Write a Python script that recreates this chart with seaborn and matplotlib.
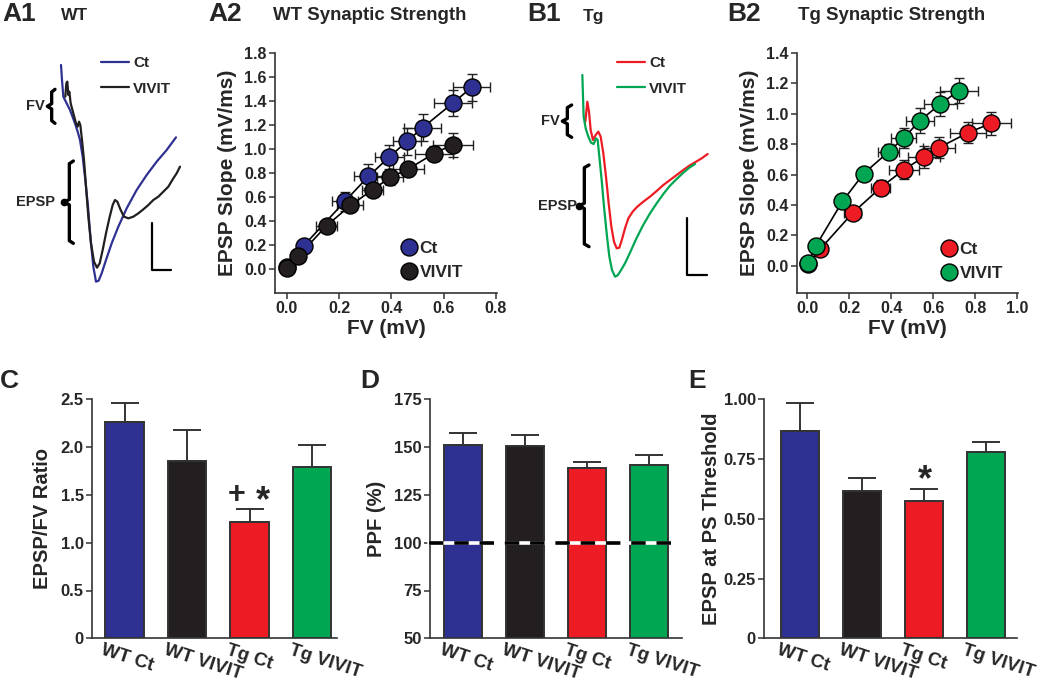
import numpy as np
import matplotlib
matplotlib.use('Agg')
import matplotlib.pyplot as plt
import seaborn as sns
from matplotlib.lines import Line2D
from matplotlib.transforms import ScaledTranslation

sns.set_theme(style='ticks')
plt.rcParams['font.family'] = ['Liberation Sans', 'DejaVu Sans']
plt.rcParams['font.weight'] = 'bold'
plt.rcParams['axes.labelweight'] = 'bold'

BLUE, BLACK, RED, GREEN = '#2e3192', '#231f20', '#ed1c24', '#00a651'
EDGE = '#333333'

# --- A1 / B1 traces (time, amplitude in arbitrary units) ---
wt_ct_t = [3, 6, 10, 15, 30, 45, 53, 60, 68, 76, 84, 92, 100, 108, 116, 125, 138,
           155, 175, 200, 230, 260, 290, 320, 348]
wt_ct_v = [0, -45, -95, -105, -135, -175, -200, -225, -275, -345, -425, -525, -605,
           -650, -647, -625, -585, -535, -485, -430, -375, -330, -290, -255, -217]
wt_vivit_t = [16, 19, 22, 25, 28, 32, 40, 48, 53, 57, 61, 66, 72, 78, 85, 93, 102, 111,
              119, 128, 138, 148, 158, 165, 172, 182, 192, 205, 220, 235, 250, 265,
              280, 295, 310, 325, 340, 350, 360]
wt_vivit_v = [-95, -55, -50, -90, -80, -115, -145, -175, -185, -170, -180, -225, -285,
              -365, -455, -535, -590, -608, -595, -555, -505, -460, -420, -405, -410,
              -435, -455, -460, -455, -445, -433, -420, -405, -395, -380, -365, -340,
              -325, -305]

tg_ct_t = [11, 17, 22, 27, 34, 42, 50, 57, 65, 73, 81, 89, 97, 105, 113, 121, 130, 140,
           153, 167, 185, 205, 225, 245, 265, 285, 305, 323, 340, 360, 378]
tg_ct_v = [-140, -80, -110, -165, -195, -180, -170, -185, -235, -305, -385, -455, -500,
           -520, -518, -493, -460, -430, -410, -395, -380, -365, -348, -330, -315, -300,
           -285, -272, -262, -250, -237]
tg_vivit_t = [2, 4, 6, 12, 20, 28, 36, 43, 48, 53, 60, 67, 75, 83, 91, 100, 108, 117,
              130, 145, 163, 183, 205, 225, 245, 265, 285, 305, 323, 340]
tg_vivit_v = [0, -65, -125, -160, -185, -203, -207, -190, -195, -245, -315, -395, -475,
              -545, -585, -605, -601, -587, -565, -533, -493, -453, -415, -385, -357,
              -332, -312, -293, -278, -267]

# --- A2 WT synaptic strength ---
wt_ct_fv = [0.0, 0.064, 0.222, 0.312, 0.392, 0.46, 0.52, 0.636, 0.708]
wt_ct_slope = [0.02, 0.194, 0.564, 0.772, 0.933, 1.064, 1.178, 1.383, 1.514]
wt_ct_fv_err = [0.01, 0.02, 0.05, 0.055, 0.055, 0.055, 0.07, 0.074, 0.072]
wt_ct_slope_err = [0.01, 0.03, 0.08, 0.1, 0.1, 0.11, 0.11, 0.11, 0.11]
wt_vivit_fv = [0.0, 0.042, 0.152, 0.243, 0.329, 0.396, 0.465, 0.562, 0.636]
wt_vivit_slope = [0.01, 0.106, 0.361, 0.53, 0.661, 0.764, 0.833, 0.961, 1.036]
wt_vivit_fv_err = [0.01, 0.015, 0.04, 0.05, 0.04, 0.05, 0.06, 0.073, 0.077]
wt_vivit_slope_err = [0.01, 0.02, 0.04, 0.04, 0.05, 0.06, 0.06, 0.06, 0.1]

# --- B2 Tg synaptic strength ---
tg_ct_fv = [0.005, 0.063, 0.216, 0.35, 0.461, 0.556, 0.626, 0.765, 0.876]
tg_ct_slope = [0.01, 0.11, 0.346, 0.514, 0.633, 0.716, 0.776, 0.875, 0.937]
tg_ct_fv_err = [0.005, 0.02, 0.04, 0.045, 0.07, 0.077, 0.077, 0.087, 0.093]
tg_ct_slope_err = [0.01, 0.02, 0.04, 0.05, 0.06, 0.07, 0.07, 0.07, 0.077]
tg_vivit_fv = [0.005, 0.041, 0.168, 0.269, 0.388, 0.46, 0.537, 0.634, 0.723]
tg_vivit_slope = [0.015, 0.128, 0.423, 0.606, 0.75, 0.842, 0.955, 1.065, 1.153]
tg_vivit_fv_err = [0.005, 0.015, 0.02, 0.03, 0.05, 0.06, 0.065, 0.08, 0.09]
tg_vivit_slope_err = [0.01, 0.02, 0.03, 0.04, 0.05, 0.065, 0.08, 0.08, 0.08]

# --- C, D, E bar charts ---
groups = ['WT Ct', 'WT VIVIT', 'Tg Ct', 'Tg VIVIT']
bar_colors = [BLUE, BLACK, RED, GREEN]
ratio = [2.263, 1.855, 1.213, 1.796]
ratio_err = [0.195, 0.324, 0.136, 0.226]
ppf = [150.9, 150.6, 139.1, 140.7]
ppf_err = [6.7, 5.7, 3.1, 5.4]
thresh = [0.8675, 0.615, 0.573, 0.778]
thresh_err = [0.117, 0.056, 0.052, 0.042]

W, H = 1050, 687
fig = plt.figure(figsize=(10.5, 6.87), dpi=100)


def box(x0, y0, x1, y1):
    return [x0 / W, 1 - y1 / H, (x1 - x0) / W, (y1 - y0) / H]


def brace(ax, x_line, x_hook, x_tip, y_top, y_bot, dot=False):
    y_mid = (y_top + y_bot) / 2
    s = 8
    ax.plot([x_hook, x_line, x_line, x_tip, x_line, x_line, x_hook],
            [y_top, y_top - s, y_mid + s, y_mid, y_mid - s, y_bot + s, y_bot],
            color='black', lw=2.4, solid_joinstyle='round', solid_capstyle='round')
    if dot:
        ax.plot([x_tip], [y_mid], 'o', color='black', ms=4.5)


def trace_panel(rect, xlim, ylim, traces, fv, epsp, fv_text_x, epsp_text_x, bar, leg_xy):
    ax = fig.add_axes(rect)
    for t, v, c, lab in traces:
        sns.lineplot(x=t, y=v, color=c, lw=1.6, ax=ax, estimator=None, sort=False, label=lab)
    brace(ax, *fv)
    brace(ax, *epsp, dot=True)
    ax.text(fv_text_x, (fv[3] + fv[4]) / 2, 'FV', ha='right', va='center', fontsize=10.5)
    ax.text(epsp_text_x, (epsp[3] + epsp[4]) / 2, 'EPSP', ha='right', va='center', fontsize=10.5)
    bx, by0, by1, bx1 = bar
    ax.plot([bx, bx, bx1], [by0, by1, by1], color='black', lw=1.6)
    ax.set_xlim(*xlim)
    ax.set_ylim(*ylim)
    ax.axis('off')
    ax.legend(loc='upper left', bbox_to_anchor=leg_xy, frameon=False, fontsize=11,
              handlelength=1.8, handletextpad=0.3, labelspacing=0.75, borderpad=0,
              borderaxespad=0)
    return ax


trace_panel(box(10, 55, 190, 290), (-150, 390), (-675, 30),
            [(wt_ct_t, wt_ct_v, BLUE, 'Ct'), (wt_vivit_t, wt_vivit_v, BLACK, 'VIVIT')],
            (-25, -15, -38, -73, -175), (28, 40, 12, -288, -535), -45, -15,
            (275, -475, -615, 332), (0.506, 0.995))
trace_panel(box(540, 55, 720, 290), (-125, 415), (-645, 60),
            [(tg_ct_t, tg_ct_v, RED, 'Ct'), (tg_vivit_t, tg_vivit_v, GREEN, 'VIVIT')],
            (-43, -30, -58, -90, -187), (8, 22, -7, -270, -515), -65, -15,
            (315, -430, -600, 377), (0.428, 0.995))


def style_axes(ax):
    sns.despine(ax=ax)
    for sp in ('left', 'bottom'):
        ax.spines[sp].set_linewidth(1.2)
        ax.spines[sp].set_color(EDGE)
    ax.tick_params(axis='both', direction='out', length=4, width=1.1, color=EDGE,
                   labelsize=11.5, pad=2)


def xy_panel(rect, series, xlim, ylim, xticks, yticks, leg_xy):
    ax = fig.add_axes(rect)
    handles = []
    for x, y, xe, ye, c, lab in series:
        ax.errorbar(x, y, xerr=xe, yerr=ye, fmt='none', ecolor='#222222',
                    elinewidth=1.0, capsize=3.5, capthick=1.0, zorder=1)
        sns.lineplot(x=x, y=y, color='black', lw=1.2, ax=ax, estimator=None,
                     sort=False, zorder=2)
        sns.scatterplot(x=x, y=y, color=c, s=150, edgecolor='black', linewidth=1.0,
                        ax=ax, zorder=3)
        handles.append(Line2D([], [], marker='o', ls='none', markerfacecolor=c,
                              markeredgecolor='black', markersize=12.2, label=lab))
    ax.set_xlim(*xlim)
    ax.set_ylim(*ylim)
    ax.set_xticks(xticks)
    ax.set_xticklabels([f'{v:.1f}' for v in xticks])
    ax.set_yticks(yticks)
    ax.set_yticklabels([f'{v:.1f}' for v in yticks])
    ax.set_xlabel('FV (mV)', fontsize=15, labelpad=2)
    ax.set_ylabel('EPSP Slope (mV/ms)', fontsize=15, labelpad=5)
    style_axes(ax)
    ax.legend(handles=handles, loc='center left', bbox_to_anchor=leg_xy, frameon=False,
              fontsize=12.5, handlelength=1.0, handletextpad=0.1, labelspacing=0.55,
              borderpad=0, borderaxespad=0)
    return ax


xy_panel(box(275, 53, 497, 293),
         [(wt_ct_fv, wt_ct_slope, wt_ct_fv_err, wt_ct_slope_err, BLUE, 'Ct'),
          (wt_vivit_fv, wt_vivit_slope, wt_vivit_fv_err, wt_vivit_slope_err, BLACK, 'VIVIT')],
         (-0.046, 0.805), (-0.2, 1.8), np.arange(0, 0.81, 0.2), np.arange(0, 1.81, 0.2),
         (0.566, 0.136))
xy_panel(box(797, 53, 1018, 293),
         [(tg_ct_fv, tg_ct_slope, tg_ct_fv_err, tg_ct_slope_err, RED, 'Ct'),
          (tg_vivit_fv, tg_vivit_slope, tg_vivit_fv_err, tg_vivit_slope_err, GREEN, 'VIVIT')],
         (-0.048, 1.003), (-0.18, 1.4), np.arange(0, 1.01, 0.2), np.arange(0, 1.41, 0.2),
         (0.65, 0.131))


def bar_panel(rect, vals, errs, xlim, ylim, yticks, ylabels, ylabel, lpad=6):
    ax = fig.add_axes(rect)
    sns.barplot(x=groups, y=vals, hue=groups, palette=bar_colors, legend=False,
                saturation=1, width=0.61, edgecolor=EDGE, linewidth=1.4, ax=ax)
    ax.errorbar(range(4), vals, yerr=[np.zeros(4), errs], fmt='none', ecolor=EDGE,
                elinewidth=1.4, capsize=10, capthick=1.4, zorder=1)
    ax.set_xlim(*xlim)
    ax.set_ylim(*ylim)
    ax.set_yticks(yticks)
    ax.set_yticklabels(ylabels)
    ax.set_ylabel(ylabel, fontsize=14.5, labelpad=lpad)
    style_axes(ax)
    ax.tick_params(axis='y', labelsize=12)
    ax.tick_params(axis='x', length=0, pad=2.5)
    ax.set_xticks(range(4))
    ax.set_xticklabels(groups, rotation=-18, ha='left', va='top', rotation_mode='anchor',
                       fontsize=13.5)
    shift = ScaledTranslation(-20 / 100, 0, fig.dpi_scale_trans)
    for lab in ax.get_xticklabels():
        lab.set_transform(lab.get_transform() + shift)
    return ax


axC = bar_panel(box(92, 399.3, 337, 638.3), ratio, ratio_err, (-0.52, 3.4), (0, 2.5),
                [0, 0.5, 1.0, 1.5, 2.0, 2.5], ['0', '0.5', '1.0', '1.5', '2.0', '2.5'],
                'EPSP/FV Ratio')
axC.text(1.79, 1.5, '+', ha='center', va='center', fontsize=22)
axC.text(2.21, 1.43, '*', ha='center', va='center', fontsize=26)

axD = bar_panel(box(430, 399.3, 681.7, 638.3), ppf, ppf_err, (-0.53, 3.53), (50, 175),
                [50, 75, 100, 125, 150, 175], ['50', '75', '100', '125', '150', '175'],
                'PPF (%)')
axD.plot([-0.55, 3.35], [100, 100], color='white', lw=2.6, zorder=4, clip_on=False)
axD.plot([-0.55, 3.35], [100, 100], color='black', lw=2.6, zorder=5, clip_on=False,
         ls=(0, (4.0, 3.0)))

axE = bar_panel(box(764.3, 399.3, 1016.7, 638.3), thresh, thresh_err, (-0.57, 3.5),
                (0, 1.0), [0, 0.25, 0.5, 0.75, 1.0], ['0', '0.25', '0.50', '0.75', '1.00'],
                'EPSP at PS Threshold', lpad=2)
axE.text(2.02, 0.66, '*', ha='center', va='center', fontsize=26)

# panel letters and titles
for x, y, s, fs in [(2, 14, 'A1', 19), (208, 14, 'A2', 19), (527, 14, 'B1', 19),
                    (727, 14, 'B2', 19), (0, 381, 'C', 19), (360, 381, 'D', 19),
                    (688, 381, 'E', 19),
                    (61, 16, 'WT', 12.5), (273, 16, 'WT Synaptic Strength', 13.4),
                    (583, 16, 'Tg', 12.5), (798, 16, 'Tg Synaptic Strength', 13.4)]:
    fig.text(x / W, 1 - y / H, s, ha='left', va='center', fontsize=fs, fontweight='bold')

fig.savefig('out.png', dpi=100)
